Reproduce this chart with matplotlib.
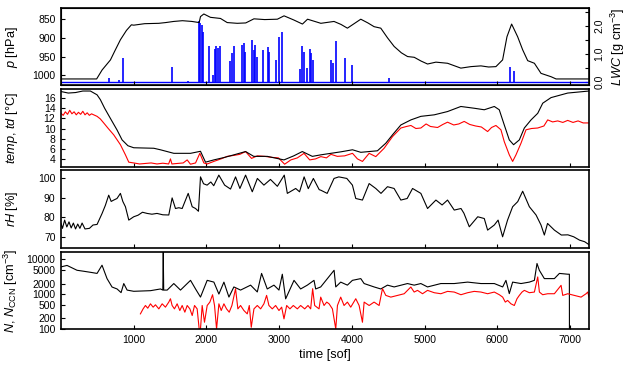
import matplotlib
matplotlib.use("Agg")
import matplotlib.pyplot as plt
from matplotlib.ticker import FixedLocator, FuncFormatter, NullFormatter

plt.rcParams["font.family"] = ["Liberation Sans", "DejaVu Sans"]
plt.rcParams["mathtext.fontset"] = "custom"
plt.rcParams["mathtext.rm"] = "Liberation Sans"
plt.rcParams["mathtext.it"] = "Liberation Sans:italic"
plt.rcParams["font.size"] = 9.2

# --- pressure [hPa]
p_time = [
    0, 490, 565, 680, 740, 817, 900, 968, 1000, 1150,
    1345, 1440, 1550, 1670, 1800, 1900, 1918, 1964, 2055, 2193,
    2285, 2423, 2540, 2653, 2800, 2975, 3067, 3200, 3320, 3390,
    3573, 3754, 3850, 3938, 4030, 4122, 4220, 4305, 4397, 4490,
    4581, 4680, 4765, 4857, 4950, 5040, 5155, 5315, 5498, 5636,
    5774, 5880, 5980, 6072, 6132, 6196, 6279, 6348, 6417, 6509,
    6600, 6738, 6807, 7260]
p_val = [
    1010, 1010, 986, 959, 935, 905, 880, 865, 866, 862,
    861, 859, 856, 854, 856, 859, 843, 836, 845, 848,
    859, 861, 860, 849, 851, 850, 841, 852, 863, 850,
    861, 856, 864, 874, 862, 850, 860, 870, 874, 900,
    923, 940, 950, 952, 962, 970, 965, 968, 981, 977,
    975, 978, 977, 959, 897, 863, 897, 932, 961, 968,
    995, 1004, 1010, 1010]

# --- liquid water content spikes [g cm^-3]
lwc_time = [
    660, 800, 850, 1530, 1750, 1895, 1915, 1932, 1955, 2032,
    2086, 2114, 2136, 2160, 2190, 2328, 2350, 2382, 2487, 2514,
    2532, 2632, 2655, 2673, 2691, 2773, 2850, 2864, 2950, 2996,
    3033, 3283, 3315, 3338, 3388, 3420, 3442, 3465, 3715, 3738,
    3775, 3905, 4000, 4514, 6178, 6233]
lwc_val = [
    0.13, 0.08, 0.85, 0.55, 0.05, 2.19, 2.1, 2.03, 1.8, 1.29,
    0.25, 1.17, 1.27, 1.2, 1.3, 0.73, 1.03, 1.29, 1.32, 1.4,
    1.08, 1.5, 1.14, 1.32, 0.9, 1.14, 1.23, 1.08, 0.79, 1.62,
    1.77, 0.45, 1.29, 1.08, 0.5, 1.17, 1.03, 0.79, 0.79, 0.67,
    1.45, 0.84, 0.6, 0.13, 0.55, 0.39]

# --- temperature [degC]
t_time = [
    0, 100, 200, 300, 404, 496, 541, 600, 679, 771,
    840, 920, 1000, 1276, 1367, 1551, 1781, 1918, 1987, 2101,
    2250, 2377, 2538, 2650, 2836, 3066, 3200, 3318, 3456, 3573,
    3711, 3850, 4008, 4122, 4351, 4466, 4558, 4673, 4811, 4948,
    5132, 5315, 5498, 5682, 5820, 5958, 6026, 6095, 6164, 6223,
    6302, 6371, 6463, 6555, 6624, 6738, 6967, 7260]
t_val = [
    17.3, 17.0, 17.1, 17.4, 17.4, 16.65, 15.7, 14.0, 12.0, 9.7,
    7.75, 6.6, 6.2, 6.1, 5.8, 5.1, 5.1, 5.5, 3.35, 3.8,
    4.3, 4.8, 5.45, 4.5, 4.5, 3.8, 4.6, 5.45, 4.5, 4.8,
    5.1, 5.4, 5.8, 5.3, 5.6, 7.1, 8.75, 10.7, 11.7, 12.4,
    12.7, 13.35, 14.35, 14.0, 13.7, 14.35, 13.7, 10.7, 7.75, 6.8,
    7.75, 10.1, 11.7, 13.0, 15.0, 16.1, 17.0, 17.4]

# --- dew point [degC]
td_time = [
    0, 30, 60, 90, 120, 150, 180, 210, 240, 270,
    300, 330, 360, 390, 420, 450, 496, 540, 587, 650,
    725, 817, 886, 932, 1000, 1080, 1160, 1240, 1320, 1400,
    1480, 1505, 1525, 1600, 1680, 1735, 1780, 1850, 1909, 1964,
    2010, 2101, 2200, 2285, 2380, 2460, 2538, 2620, 2700, 2800,
    2900, 2990, 3075, 3160, 3250, 3341, 3420, 3500, 3573, 3650,
    3711, 3800, 3900, 4008, 4076, 4145, 4237, 4328, 4443, 4558,
    4673, 4750, 4811, 4880, 4948, 5020, 5080, 5178, 5250, 5315,
    5400, 5470, 5544, 5620, 5700, 5780, 5866, 5920, 5980, 6049,
    6095, 6164, 6210, 6256, 6325, 6394, 6470, 6555, 6640, 6692,
    6760, 6830, 6900, 6967, 7040, 7110, 7180, 7260]
td_val = [
    13.0, 12.6, 13.3, 12.8, 13.6, 12.9, 13.3, 12.7, 13.2, 12.8,
    13.4, 12.7, 13.1, 12.6, 12.9, 12.7, 12.4, 11.9, 11.1, 10.0,
    8.75, 6.8, 4.8, 3.35, 3.2, 3.0, 3.1, 3.2, 3.0, 3.15,
    3.0, 4.0, 3.0, 3.1, 3.2, 3.8, 2.95, 3.2, 5.1, 3.2,
    3.0, 3.5, 4.0, 4.5, 4.7, 4.9, 5.45, 4.1, 4.6, 4.5,
    4.3, 4.2, 2.95, 3.8, 4.2, 5.1, 3.8, 4.0, 4.45, 4.2,
    4.9, 4.5, 4.6, 5.1, 4.0, 3.5, 5.1, 4.45, 6.1, 8.4,
    10.1, 10.4, 10.6, 10.0, 10.1, 10.9, 10.4, 10.2, 10.8, 11.25,
    10.7, 10.9, 11.4, 10.8, 10.5, 10.3, 9.4, 10.2, 10.6, 9.75,
    7.4, 4.8, 3.5, 4.8, 7.1, 9.75, 10.0, 10.1, 10.5, 11.7,
    11.3, 11.5, 11.2, 11.6, 11.2, 11.5, 11.1, 11.1]

# --- relative humidity [%]
rh_time = [
    0, 20, 50, 80, 110, 140, 170, 200, 230, 260,
    290, 330, 391, 440, 496, 565, 610, 656, 690, 725,
    770, 817, 850, 886, 932, 1000, 1060, 1120, 1184, 1250,
    1320, 1400, 1482, 1528, 1574, 1620, 1666, 1749, 1804, 1850,
    1890, 1918, 1960, 2009, 2060, 2100, 2170, 2250, 2331, 2400,
    2460, 2538, 2630, 2700, 2790, 2880, 2975, 3070, 3112, 3227,
    3280, 3343, 3400, 3470, 3550, 3573, 3660, 3754, 3820, 3930,
    4007, 4053, 4145, 4237, 4328, 4400, 4489, 4580, 4673, 4760,
    4834, 4948, 5040, 5155, 5240, 5315, 5407, 5500, 5540, 5614,
    5730, 5820, 5866, 5958, 6010, 6072, 6140, 6210, 6280, 6348,
    6440, 6532, 6600, 6646, 6690, 6784, 6880, 6970, 7050, 7130,
    7200, 7260]
rh_val = [
    76.8, 74.3, 78.5, 75.0, 77.6, 74.5, 77.0, 74.0, 76.5, 74.3,
    77.0, 74.0, 74.3, 76.0, 76.3, 81.9, 86.0, 91.2, 88.0, 88.7,
    89.5, 92.1, 88.0, 85.3, 78.5, 80.2, 81.0, 82.5, 81.9, 81.5,
    81.9, 81.2, 81.1, 89.8, 84.4, 84.8, 84.4, 92.1, 85.3, 84.4,
    83.0, 100.5, 97.0, 96.3, 97.9, 96.0, 101.4, 96.3, 94.3, 100.5,
    94.6, 101.4, 92.9, 99.7, 96.3, 99.2, 95.7, 101.4, 92.1, 94.6,
    92.9, 100.5, 94.5, 99.7, 94.0, 93.7, 92.1, 99.7, 100.5, 99.7,
    96.3, 89.5, 88.7, 97.1, 94.6, 92.1, 95.5, 94.6, 88.7, 89.5,
    94.6, 92.1, 84.4, 88.7, 86.2, 88.7, 83.6, 84.4, 82.0, 75.1,
    80.2, 79.3, 73.4, 76.0, 78.5, 70.0, 78.5, 85.3, 87.9, 93.2,
    85.3, 81.1, 76.0, 70.9, 76.8, 73.4, 70.9, 71.0, 70.0, 68.3,
    67.5, 66.0]

# --- particle number N [cm^-3]
n_time = [
    0, 83, 220, 312, 404, 496, 564, 633, 702, 771,
    826, 863, 909, 1000, 1230, 1368, 1400, 1406, 1412, 1460,
    1551, 1643, 1781, 1850, 1918, 2010, 2102, 2171, 2240, 2309,
    2377, 2469, 2607, 2699, 2758, 2836, 2928, 2997, 3043, 3089,
    3204, 3295, 3387, 3479, 3502, 3571, 3755, 3778, 3846, 3938,
    4007, 4122, 4168, 4305, 4397, 4489, 4581, 4764, 4856, 4948,
    5040, 5223, 5407, 5591, 5774, 5958, 6073, 6118, 6164, 6210,
    6325, 6440, 6509, 6545, 6577, 6646, 6784, 6853, 6968, 6990,
    6991]
n_val = [
    6000, 6600, 4800, 4500, 4200, 3900, 6700, 2770, 1590, 1400,
    1100, 2000, 1300, 1200, 1250, 1400, 1300, 16000, 1300, 1300,
    2000, 1300, 2470, 1400, 820, 2470, 2200, 1000, 2200, 820,
    1600, 1300, 1800, 1150, 3900, 1400, 1800, 1300, 3700, 730,
    2470, 1400, 1800, 2470, 1400, 1600, 4800, 1600, 2200, 1800,
    2470, 2770, 2000, 1600, 1400, 1800, 1600, 2000, 1800, 2000,
    1600, 2000, 2000, 2200, 2000, 2000, 1600, 2470, 1030, 2200,
    2000, 2200, 2470, 7500, 4800, 2770, 2770, 3900, 3700, 3700,
    90]

# --- CCN number N_CCN [cm^-3]
ccn_time = [
    1092, 1129, 1161, 1193, 1230, 1267, 1299, 1345, 1391, 1436,
    1482, 1505, 1528, 1560, 1597, 1634, 1666, 1703, 1735, 1772,
    1804, 1836, 1872, 1900, 1918, 1941, 1973, 2010, 2047, 2084,
    2111, 2139, 2171, 2203, 2240, 2276, 2313, 2350, 2400, 2432,
    2469, 2515, 2561, 2589, 2616, 2653, 2699, 2745, 2790, 2827,
    2859, 2905, 2951, 2997, 3034, 3066, 3103, 3148, 3194, 3250,
    3295, 3351, 3396, 3433, 3460, 3488, 3548,
    3571, 3617, 3654, 3686, 3732, 3778, 3801, 3846, 3892, 3938,
    3984, 4053, 4099, 4145, 4168, 4237, 4305, 4374, 4420, 4466,
    4535, 4627, 4719, 4810, 4856, 4902, 4971, 5040, 5132, 5223,
    5315, 5407, 5499, 5591, 5682, 5774, 5866, 5958, 6027, 6073,
    6109, 6141, 6187, 6233, 6270, 6302, 6339, 6371, 6440, 6509,
    6555, 6578, 6623, 6692, 6784, 6876, 6899, 6968, 7059, 7151,
    7220, 7243, 7260]
ccn_val = [
    271, 377, 471, 394, 526, 422, 493, 377, 526, 422,
    589, 735, 471, 377, 526, 338, 471, 303, 471, 377,
    243, 471, 377, 100, 100, 471, 156, 471, 589, 957,
    471, 100, 526, 338, 526, 377, 303, 471, 1425, 377,
    471, 338, 271, 471, 112, 377, 471, 377, 526, 916,
    471, 377, 471, 338, 422, 195, 471, 377, 471, 377,
    471, 377, 471, 377, 1425, 471, 377,
    818, 471, 589, 526, 377, 100, 471, 818, 471, 589,
    422, 735, 471, 156, 589, 471, 589, 471, 1425, 916,
    818, 916, 1022, 1592, 1142, 1276, 1022, 1276, 1093, 1022,
    1194, 1142, 957, 1093, 1194, 1142, 1022, 1142, 957, 818,
    589, 657, 526, 471, 735, 916, 1142, 1276, 1093, 1142,
    3090, 1142, 957, 1022, 1022, 1778, 916, 1022, 916, 818,
    1022, 1142, 818]

xmax = 7260
left, width = 61 / 640, 528 / 640
rows = [(8, 85.3), (89, 167), (170, 248), (252, 329)]
tick_kw = dict(direction="in", length=3, width=0.8, labelsize=7.5, pad=4)

fig = plt.figure(figsize=(6.4, 3.73), dpi=100)
axes = []
for top, bot in rows:
    ax = fig.add_axes([left, 1 - bot / 373, width, (bot - top) / 373])
    ax.set_xlim(0, xmax)
    ax.xaxis.set_major_locator(FixedLocator(range(1000, 8000, 1000)))
    ax.tick_params(**tick_kw)
    for s in ax.spines.values():
        s.set_linewidth(1.2)
    axes.append(ax)

for ax in axes[:-1]:
    ax.xaxis.set_major_formatter(NullFormatter())

black = dict(color="black", lw=0.8)
red = dict(color="red", lw=0.8)

# panel 1: pressure + LWC
ax1 = axes[0]
ax1.plot(p_time, p_val, **black, zorder=3)
ax1.set_ylim(1027, 820)
ax1.set_yticks([850, 900, 950, 1000])
ax1.set_ylabel("$p$ [hPa]")
axr = ax1.twinx()
axr.set_xlim(0, xmax)
axr.axhline(0, color="blue", lw=1.0)
axr.vlines(lwc_time, 0, lwc_val, color="blue", lw=1.2)
axr.set_ylim(-0.12, 2.64)
axr.yaxis.set_major_locator(FixedLocator([0, 0.5, 1, 1.5, 2, 2.5]))
axr.yaxis.set_major_formatter(
    FuncFormatter(lambda v, _: f"{v:.1f}" if v in (0, 1, 2) else ""))
axr.tick_params(**tick_kw)
for lab in axr.get_yticklabels():
    lab.set_rotation(90)
    lab.set_va("center")
axr.set_ylabel("$LWC$ [g cm$^{-3}$]", rotation=90, labelpad=3)
ax1.set_zorder(axr.get_zorder() + 1)
ax1.patch.set_visible(False)

# panel 2: temperature and dew point
ax2 = axes[1]
ax2.plot(td_time, td_val, **red)
ax2.plot(t_time, t_val, **black)
ax2.set_ylim(2.4, 17.8)
ax2.set_yticks([4, 6, 8, 10, 12, 14, 16])
ax2.set_ylabel("$temp$, $td$ [°C]")

# panel 3: relative humidity
ax3 = axes[2]
ax3.plot(rh_time, rh_val, **black)
ax3.set_ylim(64.3, 104)
ax3.set_yticks([70, 80, 90, 100])
ax3.set_ylabel("$rH$ [%]")

# panel 4: particle number concentrations
ax4 = axes[3]
ax4.plot(n_time, n_val, **black)
ax4.plot(ccn_time, ccn_val, **red)
ax4.set_yscale("log")
ax4.set_ylim(100, 16000)
ax4.yaxis.set_major_locator(FixedLocator([100, 200, 500, 1000, 2000, 5000, 10000]))
ax4.yaxis.set_minor_locator(FixedLocator([]))
ax4.yaxis.set_major_formatter(FuncFormatter(lambda v, _: f"{int(v)}"))
ax4.set_ylabel("$N$, $N_{\\mathrm{CCN}}$ [cm$^{-3}$]")
ax4.set_xlabel("time [sof]", labelpad=3)

for ax in axes:
    ax.yaxis.set_label_coords(-0.077, 0.5)

fig.savefig("out.png", dpi=100)
